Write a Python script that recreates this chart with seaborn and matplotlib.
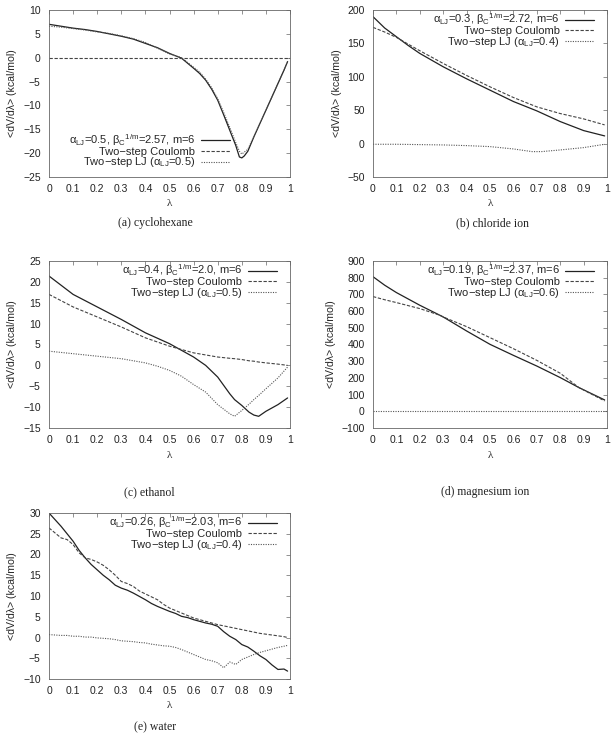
import numpy as np
import pandas as pd
import seaborn as sns
import matplotlib
matplotlib.use("Agg")
import matplotlib.pyplot as plt

# ---------------- data ----------------
# (a) cyclohexane
lam_a = [0, 0.05, 0.1, 0.15, 0.2, 0.25, 0.3, 0.35, 0.4, 0.45, 0.5, 0.55, 0.6, 0.625, 0.65,
         0.675, 0.7, 0.725, 0.75, 0.775, 0.79, 0.8, 0.81, 0.825, 0.85, 0.875, 0.9, 0.925,
         0.95, 0.975, 0.99]
a_main = [7.0, 6.6, 6.2, 5.9, 5.5, 5.0, 4.5, 3.9, 3.0, 2.1, 0.9, -0.1, -2.2, -3.3, -4.7,
          -6.6, -8.9, -12.0, -15.2, -18.4, -20.8, -21.0, -20.6, -19.6, -16.6, -13.8, -11.0,
          -8.2, -5.4, -2.6, -0.8]
a_lj = [6.6, 6.4, 6.1, 5.8, 5.4, 5.1, 4.6, 4.0, 3.2, 2.0, 0.8, 0.0, -2.0, -3.0, -4.5,
        -6.3, -8.6, -11.5, -14.6, -17.8, -19.6, -20.2, -19.8, -19.2, -16.5, -13.7, -11.0,
        -8.2, -5.4, -2.6, -0.8]
lam_a_coul = [0, 1]
a_coul = [0, 0]

# (b) chloride ion
lam_b = [0, 0.05, 0.1, 0.15, 0.2, 0.3, 0.4, 0.5, 0.6, 0.7, 0.8, 0.9, 0.99]
b_main = [190, 173, 160, 147, 135, 115, 97, 80, 63, 49, 33, 19.5, 11.5]
b_coul = [174, 167, 159, 149, 139, 120, 102, 85, 69, 55, 45, 37, 28]
lam_b_lj = [0, 0.1, 0.2, 0.3, 0.4, 0.5, 0.6, 0.68, 0.72, 0.8, 0.9, 0.99]
b_lj = [-1, -1, -1.5, -2, -3, -4.5, -8, -12, -12, -9.5, -6, -1]

# (c) ethanol
lam_c = [0, 0.05, 0.1, 0.15, 0.2, 0.25, 0.3, 0.35, 0.4, 0.45, 0.5, 0.55, 0.6, 0.65, 0.7,
         0.75, 0.77, 0.8, 0.83, 0.85, 0.87, 0.9, 0.95, 0.99]
c_main = [21.4, 19.2, 17.0, 15.5, 14.0, 12.5, 11.0, 9.4, 7.8, 6.5, 5.2, 3.6, 2.0, 0.0,
          -2.8, -6.8, -8.2, -9.6, -11.2, -11.9, -12.2, -11.0, -9.4, -7.8]
c_coul = [17.0, 15.5, 14.0, 12.8, 11.6, 10.4, 9.2, 7.9, 6.6, 5.6, 4.6, 3.8, 3.0, 2.5, 2.0,
          1.7, 1.6, 1.4, 1.1, 1.0, 0.8, 0.6, 0.3, 0.0]
c_lj = [3.4, 3.1, 2.8, 2.5, 2.2, 1.9, 1.6, 1.1, 0.6, -0.2, -1.2, -2.6, -4.6, -6.4, -9.4,
        -11.6, -12.2, -10.8, -9.3, -8.2, -7.2, -5.6, -3.0, -0.4]

# (d) magnesium ion
lam_d = [0, 0.05, 0.1, 0.2, 0.286, 0.3, 0.4, 0.5, 0.6, 0.7, 0.8, 0.88, 0.99]
d_main = [806, 755, 711, 635, 575, 565, 481, 401, 335, 271, 202, 142, 68]
d_coul = [687, 668, 651, 615, 575, 565, 507, 441, 375, 305, 228, 142, 62]
lam_d_lj = [0, 1]
d_lj = [0, 0]

# (e) water
lam_e = [0, 0.025, 0.05, 0.075, 0.1, 0.125, 0.15, 0.175, 0.2, 0.225, 0.25, 0.275, 0.3,
         0.325, 0.35, 0.375, 0.4, 0.425, 0.45, 0.475, 0.5, 0.525, 0.55, 0.575, 0.6, 0.625,
         0.65, 0.675, 0.7, 0.725, 0.75, 0.775, 0.8, 0.825, 0.85, 0.875, 0.9, 0.925, 0.95,
         0.975, 0.99]
e_main = [30.0, 28.4, 26.8, 25.0, 23.2, 21.0, 19.2, 17.6, 16.3, 15.0, 13.9, 12.6, 11.9,
          11.4, 10.7, 9.9, 9.1, 8.2, 7.5, 6.9, 6.3, 5.8, 5.1, 4.8, 4.3, 3.9, 3.5, 3.2,
          2.7, 1.4, 0.3, -0.5, -1.7, -2.3, -3.3, -4.4, -5.3, -6.6, -7.7, -7.6, -8.1]
e_coul = [26.4, 25.2, 24.0, 23.6, 22.4, 20.4, 19.2, 18.8, 18.2, 17.4, 16.3, 15.0, 13.5,
          13.0, 12.3, 11.2, 10.5, 9.8, 9.1, 8.0, 7.1, 6.5, 5.9, 5.3, 4.7, 4.3, 3.9, 3.5,
          3.1, 2.8, 2.5, 2.2, 1.9, 1.6, 1.3, 1.0, 0.8, 0.6, 0.4, 0.2, 0.0]
e_lj = [0.7, 0.6, 0.5, 0.5, 0.3, 0.3, 0.1, 0.1, -0.1, -0.2, -0.3, -0.5, -0.8, -0.9, -1.0,
        -1.2, -1.3, -1.6, -1.8, -2.0, -2.1, -2.4, -2.9, -3.5, -4.1, -4.7, -5.3, -5.6,
        -6.1, -7.3, -5.9, -6.5, -5.3, -4.7, -4.1, -3.6, -3.2, -2.8, -2.4, -2.1, -1.9]

# ---------------- style ----------------
sns.set_theme(style="white")
plt.rcParams.update({
    "font.family": ["Liberation Sans", "DejaVu Sans"],
    "mathtext.fontset": "custom",
    "mathtext.rm": "Liberation Sans",
    "mathtext.it": "Liberation Sans:italic",
    "xtick.direction": "in",
    "ytick.direction": "in",
    "xtick.top": True,
    "ytick.right": True,
    "xtick.major.size": 3,
    "ytick.major.size": 3,
    "xtick.major.width": 0.5,
    "ytick.major.width": 0.5,
    "xtick.color": "#666666",
    "ytick.color": "#666666",
    "xtick.labelcolor": "#222222",
    "ytick.labelcolor": "#222222",
    "xtick.labelsize": 7.5,
    "ytick.labelsize": 7.5,
    "axes.edgecolor": "#666666",
    "axes.linewidth": 0.6,
})

fig = plt.figure(figsize=(6.15, 7.39), dpi=100)
W, H = 615.0, 739.0

def make_ax(left, right, top, bottom):
    return fig.add_axes([left / W, 1 - bottom / H, (right - left) / W, (bottom - top) / H])

ax_a = make_ax(49, 290, 10, 177)
ax_b = make_ax(373, 607, 10, 177)
ax_c = make_ax(49, 290, 261, 428)
ax_d = make_ax(373, 607, 261, 428)
ax_e = make_ax(49, 290, 513, 679)

SOLID = dict(color="#222222", linewidth=0.9, linestyle="-")
DASH = dict(color="#444444", linewidth=0.8, linestyle=(0, (3, 1.5)))
DOT = dict(color="#555555", linewidth=0.8, linestyle=(0, (1, 1.2)))

def series(ax, x, y, style, label):
    sns.lineplot(x=x, y=y, ax=ax, label=label, sort=False, estimator=None, **style)

lab_coul = "Two\u2212step Coulomb"

def lab_main(a, b):
    return (r"$\mathregular{\alpha_{LJ}}$=" + a + r", $\mathregular{\beta_C}^{\mathregular{1/m}}$="
            + b + ", m=6")

def lab_lj(a):
    return r"Two$\mathregular{-}$step LJ ($\mathregular{\alpha_{LJ}}$=" + a + ")"

# (a)
series(ax_a, lam_a, a_main, SOLID, lab_main("0.5", "2.57"))
series(ax_a, lam_a_coul, a_coul, DASH, lab_coul)
series(ax_a, lam_a, a_lj, DOT, lab_lj("0.5"))
# (b)
series(ax_b, lam_b, b_main, SOLID, lab_main("0.3", "2.72"))
series(ax_b, lam_b, b_coul, DASH, lab_coul)
series(ax_b, lam_b_lj, b_lj, DOT, lab_lj("0.4"))
# (c)
series(ax_c, lam_c, c_main, SOLID, lab_main("0.4", "2.0"))
series(ax_c, lam_c, c_coul, DASH, lab_coul)
series(ax_c, lam_c, c_lj, DOT, lab_lj("0.5"))
# (d)
series(ax_d, lam_d, d_main, SOLID, lab_main("0.19", "2.37"))
series(ax_d, lam_d, d_coul, DASH, lab_coul)
series(ax_d, lam_d_lj, d_lj, DOT, lab_lj("0.6"))
# (e)
series(ax_e, lam_e, e_main, SOLID, lab_main("0.26", "2.03"))
series(ax_e, lam_e, e_coul, DASH, lab_coul)
series(ax_e, lam_e, e_lj, DOT, lab_lj("0.4"))

ylims = {ax_a: (-25, 10, 5), ax_b: (-50, 200, 50), ax_c: (-15, 25, 5),
         ax_d: (-100, 900, 100), ax_e: (-10, 30, 5)}
xticks = np.round(np.arange(0, 1.01, 0.1), 1)
xticklabels = ["0"] + [f"{v:g}" for v in xticks[1:-1]] + ["1"]

for ax, (lo, hi, st) in ylims.items():
    ax.set_xlim(0, 1)
    ax.set_ylim(lo, hi)
    ax.set_xticks(xticks)
    ax.set_xticklabels(xticklabels)
    yt = np.arange(lo, hi + st / 2, st)
    ax.set_yticks(yt)
    ax.set_yticklabels([f"{v:g}".replace("-", "\u2212") for v in yt])
    ax.tick_params(axis="x", pad=5)
    ax.tick_params(axis="y", pad=6)
    ax.set_xlabel("\u03bb", fontsize=8, family=["Liberation Serif"], labelpad=4)
    ax.set_ylabel("<dV/d\u03bb> (kcal/mol)", fontsize=7.6, labelpad=4)
    for s in ax.spines.values():
        s.set_visible(True)
    common = dict(frameon=False, markerfirst=False, fontsize=8, handlelength=2.6,
                  labelspacing=-0.12, borderpad=0.0, handletextpad=0.5, borderaxespad=0.0)
    if ax is ax_a:
        ax.legend(loc="lower right", bbox_to_anchor=(0.75, 0.045), **common)
    else:
        ax.legend(loc="upper right", bbox_to_anchor=(0.945, 0.99), **common)

captions = [("(a) cyclohexane", 155, 223), ("(b) chloride ion", 493, 223),
            ("(c) ethanol", 149, 492), ("(d) magnesium ion", 485, 492),
            ("(e) water", 155, 727)]
for txt, cx, cy in captions:
    fig.text(cx / W, 1 - cy / H, txt, ha="center", va="center", fontsize=8.5,
             family=["Liberation Serif"], color="#222222")

fig.savefig("out.png", dpi=100)
